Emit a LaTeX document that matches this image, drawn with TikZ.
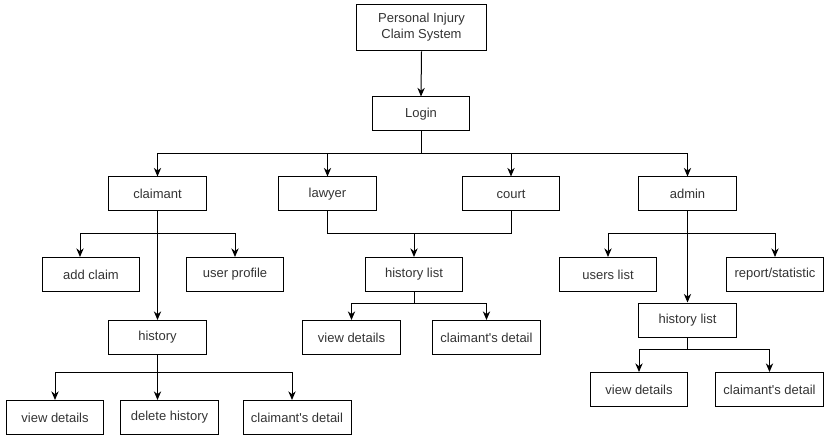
\documentclass[tikz,border=0pt]{standalone}
\usepackage{fontspec}
\setmainfont{Liberation Sans}
\usetikzlibrary{arrows.meta}
\tikzset{
	box/.style={draw=black, line width=0.75pt, rectangle, inner sep=0pt, minimum width=73pt, minimum height=25.5pt, text=black!80, font=\fontsize{9.75}{12}\selectfont, align=center},
	wide/.style={box, minimum width=81pt},
	arr/.style={line width=0.75pt, -{Stealth[length=6.5pt, width=5.5pt]}},
	ln/.style={line width=0.75pt}
}
\begin{document}
\begin{tikzpicture}[x=0.75pt, y=-0.75pt]
		\useasboundingbox (0,0) rectangle (824,438);
		\node [box, minimum width=98pt, minimum height=35pt] (sys) at (421.5,27.5) {Personal Injury\\Claim System};
		\node [box] (login) at (421,114) {Login};
		
		\node [box] (claimant) at (157.5,194) {claimant};
		\node [box] (lawyer) at (327.5,194) {lawyer};
		\node [box] (court) at (511,194) {court};
		\node [box] (admin) at (687.5,194) {admin};
		
		\node [box] (addclaim) at (91,274.5) {add claim};
		\node [box] (userprofile) at (235,274.5) {user profile};
		\node [box] (history) at (157.5,337.5) {history};
		\node [box] (viewdet1) at (55,417.5) {view details};
		\node [box] (delhist) at (169.5,417.5) {delete history};
		\node [wide] (cdet1) at (297,417.5) {claimant\textquotesingle s detail};
		
		\node [box] (hlist1) at (414,274.5) {history list};
		\node [box] (viewdet2) at (351.5,337.5) {view details};
		\node [wide] (cdet2) at (486.5,337.5) {claimant\textquotesingle s detail};
		
		\node [box] (userslist) at (608,274.5) {users list};
		\node [box] (report) at (775,274.5) {report/statistic};
		\node [box] (hlist2) at (687.5,320) {history list};
		\node [box] (viewdet3) at (639,389.5) {view details};
		\node [wide] (cdet3) at (769.5,389.5) {claimant\textquotesingle s detail};
		
		\coordinate (bus1) at (421,154);
		\coordinate (bus2) at (157.5,234);
		\coordinate (bus3) at (157.5,372);
		\coordinate (bus4) at (414,234);
		\coordinate (bus5) at (414,303);
		\coordinate (bus6) at (687.5,234);
		\coordinate (bus7) at (687.5,349);
		
		\draw [arr] (sys.south) -- (login.north);
		\foreach \r in {claimant, lawyer, court, admin}
			\draw [arr] (login.south) -- (bus1) -| (\r.north);
		
		\draw [arr] (claimant.south) -- (history.north);
		\draw [arr] (bus2) -| ([xshift=-8.25pt]addclaim.north);
		\draw [arr] (bus2) -| (userprofile.north);
		\draw [arr] (history.south) -- (history.south |- delhist.north);
		\draw [arr] (history.south) -- (bus3) -| (viewdet1.north);
		\draw [arr] (bus3) -| ([xshift=-3.75pt]cdet1.north);
		
		\draw [ln] (lawyer.south) -- (lawyer.south |- bus4) -| (court.south);
		\draw [arr] (bus4) -- (hlist1.north);
		\foreach \v in {viewdet2, cdet2}
			\draw [arr] (hlist1.south) -- (bus5) -| (\v.north);
		
		\draw [arr] (admin.south) -- (hlist2.north);
		\foreach \v in {userslist, report}
			\draw [arr] (bus6) -| (\v.north);
		\foreach \v in {viewdet3, cdet3}
			\draw [arr] (hlist2.south) -- (bus7) -| (\v.north);
	\end{tikzpicture}
\end{document}
